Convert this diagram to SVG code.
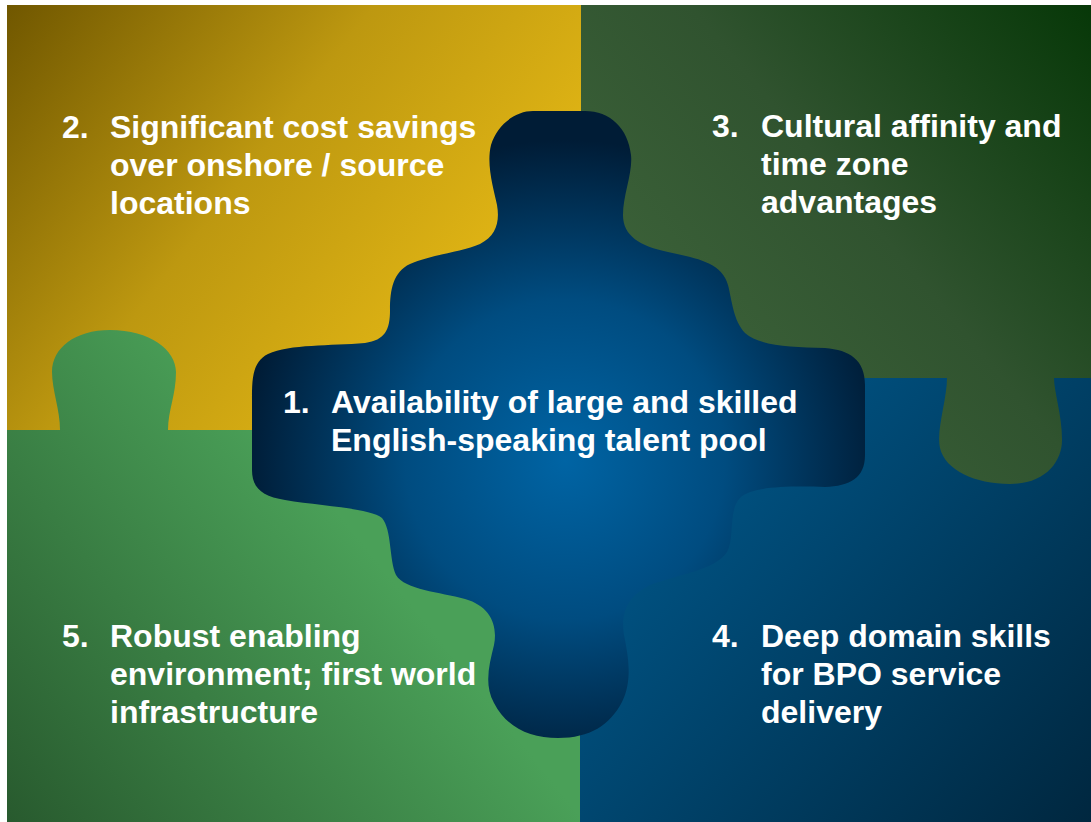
<svg xmlns="http://www.w3.org/2000/svg" width="1091" height="822" viewBox="0 0 1091 822">
<defs>
<linearGradient id="gYellow" gradientUnits="userSpaceOnUse" x1="7" y1="5" x2="520" y2="400">
<stop offset="0" stop-color="#705700"/>
<stop offset="0.45" stop-color="#bd9810"/>
<stop offset="1" stop-color="#eec016"/>
</linearGradient>
<linearGradient id="gDarkGreen" gradientUnits="userSpaceOnUse" x1="620" y1="400" x2="1091" y2="5">
<stop offset="0" stop-color="#3f663c"/>
<stop offset="0.5" stop-color="#30532f"/>
<stop offset="1" stop-color="#073808"/>
</linearGradient>
<linearGradient id="gGreen" gradientUnits="userSpaceOnUse" x1="7" y1="822" x2="360" y2="540">
<stop offset="0" stop-color="#285a2e"/>
<stop offset="1" stop-color="#4aa058"/>
</linearGradient>
<linearGradient id="gBlue" gradientUnits="userSpaceOnUse" x1="620" y1="400" x2="1091" y2="822">
<stop offset="0" stop-color="#005b90"/>
<stop offset="1" stop-color="#00273f"/>
</linearGradient>
<radialGradient id="gCenter" gradientUnits="userSpaceOnUse" cx="565" cy="460" r="320">
<stop offset="0" stop-color="#0064a4"/>
<stop offset="0.5" stop-color="#004c80"/>
<stop offset="1" stop-color="#001c36"/>
</radialGradient>
</defs>
<style>
.t{font-family:"Liberation Sans",Arial,sans-serif;font-weight:bold;font-size:32px;fill:#ffffff;}
</style>
<rect x="0" y="0" width="1091" height="822" fill="#ffffff"/>
<g id="piece2">
<rect x="7" y="5" width="574" height="425" fill="url(#gYellow)"/>
<text class="t" x="62" y="138">2.</text>
<text class="t" x="110" y="138">Significant cost savings</text>
<text class="t" x="110" y="176">over onshore / source</text>
<text class="t" x="110" y="214">locations</text>
</g>
<g id="piece4">
<rect x="580" y="378" width="511" height="444" fill="url(#gBlue)"/>
<text class="t" x="712" y="647">4.</text>
<text class="t" x="761" y="647">Deep domain skills</text>
<text class="t" x="761" y="685">for BPO service</text>
<text class="t" x="761" y="723">delivery</text>
</g>
<g id="piece3">
<path d="M581,5 L1091,5 L1091,378 L1054,378 C1054,392 1062,415 1062,440 C1062,462 1045,484 1010,484 C975,484 945,470 940,448 C936,430 947,400 947,378 L581,378 Z" fill="url(#gDarkGreen)"/>
<text class="t" x="712" y="137">3.</text>
<text class="t" x="761" y="137">Cultural affinity and</text>
<text class="t" x="761" y="175">time zone</text>
<text class="t" x="761" y="213">advantages</text>
</g>
<g id="piece5">
<path d="M7,430 L60,430 C60,410 52,390 52,372 C52,348 75,330 110,330 C150,330 176,350 176,372 C176,395 168,410 168,430 L580,430 L580,822 L7,822 Z" fill="url(#gGreen)"/>
<text class="t" x="62" y="647">5.</text>
<text class="t" x="110" y="647">Robust enabling</text>
<text class="t" x="110" y="685">environment; first world</text>
<text class="t" x="110" y="723">infrastructure</text>
</g>
<g id="piece1">
<path d="M533,111 C515,111 497,125 491,145 C486,165 494,190 497,205 C500,222 496,236 480,244 C462,252 430,255 410,264 C393,272 390,290 390,310 C390,330 385,340 365,343 C330,346 290,344 268,354 C252,362 252,380 252,400 L252,470 C252,488 262,496 285,500 C320,506 370,508 382,518 C392,530 389,560 396,575 C405,590 440,592 465,599 C490,606 498,625 494,645 C489,665 484,685 494,703 C507,728 530,738 558,738 C590,738 610,725 622,702 C633,680 628,655 624,635 C620,610 630,595 650,585 C680,574 715,570 727,552 C735,538 728,510 740,498 C752,486 790,486 825,487 C850,486 865,478 865,455 L865,385 C865,360 850,350 825,348 C790,347 760,346 745,333 C733,320 732,300 728,285 C722,262 695,258 668,252 C640,246 623,236 623,215 C623,195 633,172 631,155 C628,128 610,111 585,111 Z" fill="url(#gCenter)"/>
<text class="t" x="283" y="413">1.</text>
<text class="t" x="331" y="413">Availability of large and skilled</text>
<text class="t" x="331" y="451">English-speaking talent pool</text>
</g>
</svg>
